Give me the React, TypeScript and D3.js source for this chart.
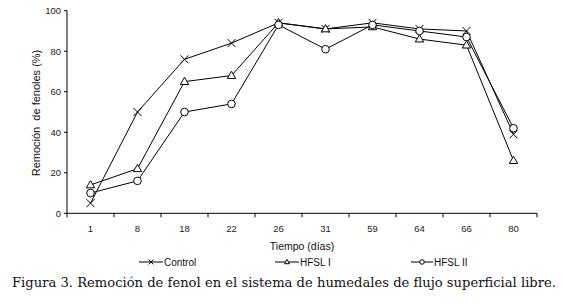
import React from "react";
import * as d3 from "d3";

const categories = ["1", "8", "18", "22", "26", "31", "59", "64", "66", "80"];
const control = [5, 50, 76, 84, 94, 91, 94, 91, 90, 39];
const hfsl1 = [14, 22, 65, 68, 94, 91, 92, 86, 83, 26];
const hfsl2 = [10, 16, 50, 54, 93, 81, 93, 90, 87, 42];
const yTicks = [0, 20, 40, 60, 80, 100];
const seriesNames = ["Control", "HFSL I", "HFSL II"];

const W = 563, H = 304;
const x0 = 67, x1 = 537, yTop = 10.7, yBot = 213.3;

function Marker({ kind, cx, cy, s }: { kind: number; cx: number; cy: number; s: number }) {
  if (kind === 0) {
    return (
      <path d={`M${cx - s},${cy - s}L${cx + s},${cy + s}M${cx - s},${cy + s}L${cx + s},${cy - s}`} stroke="#000" strokeWidth={1} fill="none" />
    );
  }
  if (kind === 1) {
    const h = s * 1.8;
    return (
      <path d={`M${cx},${cy - h * 0.6}L${cx + s * 1.05},${cy + h * 0.4}L${cx - s * 1.05},${cy + h * 0.4}Z`} stroke="#000" strokeWidth={1} fill="#fff" />
    );
  }
  return <circle cx={cx} cy={cy} r={s * 0.95} stroke="#000" strokeWidth={1} fill="#fff" />;
}

export default function App() {
  const x = d3.scaleBand<string>().domain(categories).range([x0, x1]);
  const y = d3.scaleLinear().domain([0, 100]).range([yBot, yTop]);
  const cx = (c: string) => (x(c) as number) + x.bandwidth() / 2;
  const line = d3.line<number>().x((_, i) => cx(categories[i])).y((v) => y(v));
  const data = [control, hfsl1, hfsl2];
  const boundaries = d3.range(categories.length + 1).map((i) => x0 + i * x.bandwidth());
  const legendX = [[139, 163], [275, 299], [411, 433]];
  const legendY = 262;
  const font = "'Liberation Sans', Arial, sans-serif";

  return (
    <svg width={W} height={H} style={{ position: "absolute", left: 0, top: 0, background: "#fff" }} fontFamily={font}>
      <line x1={x0} y1={yTop} x2={x0} y2={yBot} stroke="#000" strokeWidth={1} />
      <line x1={x0} y1={yBot} x2={x1} y2={yBot} stroke="#000" strokeWidth={1} />
      {yTicks.map((t) => (
        <g key={t}>
          <line x1={x0 - 3} x2={x0} y1={y(t)} y2={y(t)} stroke="#000" />
          <text x={x0 - 6} y={y(t) + 3.3} fontSize={9.5} textAnchor="end" fill="#222">{t}</text>
        </g>
      ))}
      {boundaries.map((b, i) => (
        <line key={i} x1={b} x2={b} y1={yBot} y2={yBot + 4} stroke="#000" />
      ))}
      {categories.map((c) => (
        <text key={c} x={cx(c)} y={232} fontSize={9.5} textAnchor="middle" fill="#222">{c}</text>
      ))}
      <text x={(x0 + x1) / 2} y={250} fontSize={10.5} textAnchor="middle" fill="#111">Tiempo (días)</text>
      <text transform={`translate(40,113) rotate(-90)`} fontSize={11} textAnchor="middle" fill="#111" style={{ whiteSpace: "pre" }}>{"Remoción  de fenoles (%)"}</text>

      {data.map((s, k) => (
        <g key={k}>
          <path d={line(s) as string} fill="none" stroke="#000" strokeWidth={1} />
          {s.map((v, i) => (
            <Marker key={i} kind={k} cx={cx(categories[i])} cy={y(v)} s={4} />
          ))}
        </g>
      ))}

      {seriesNames.map((n, k) => (
        <g key={n}>
          <line x1={legendX[k][0]} x2={legendX[k][1]} y1={legendY} y2={legendY} stroke="#000" />
          <Marker kind={k} cx={(legendX[k][0] + legendX[k][1]) / 2} cy={legendY} s={2.4} />
          <text x={legendX[k][1] + 1} y={legendY + 3.6} fontSize={10} fill="#111">{n}</text>
        </g>
      ))}

      <text x={12} y={287} fontSize={13} fontFamily="'DejaVu Serif', serif" fill="#111" textLength={544} lengthAdjust="spacingAndGlyphs">
        Figura 3. Remoción de fenol en el sistema de humedales de flujo superficial libre.
      </text>
    </svg>
  );
}
